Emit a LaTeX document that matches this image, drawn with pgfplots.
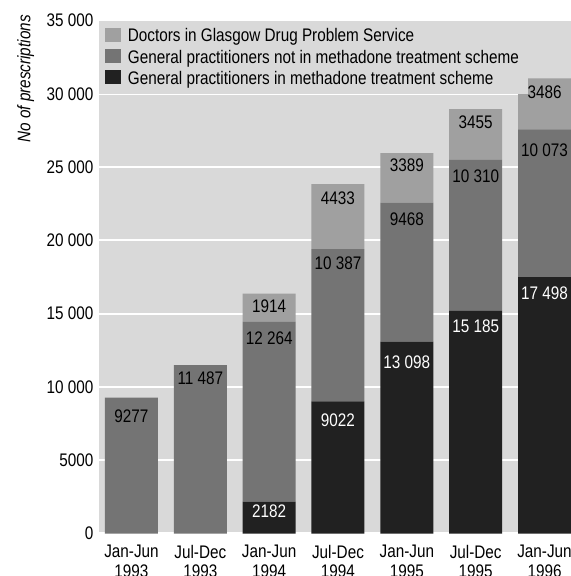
\documentclass[border=0pt]{standalone}
\usepackage{pgfplots}
\pgfplotsset{compat=1.18}
\usepackage{fontspec}
\setmainfont{Liberation Sans}[FakeStretch=0.84]
\definecolor{bgc}{HTML}{D9D9D9}
\definecolor{cl}{HTML}{A0A0A0}
\definecolor{cm}{HTML}{747474}
\definecolor{cd}{HTML}{212121}
\begin{document}
\begin{tikzpicture}[font=\fontsize{18.2bp}{19.5bp}\selectfont]
\begin{axis}[name=ax, scale only axis, width=472bp, height=513bp,
  xmin=-0.472, xmax=6.385, ymin=0, ymax=35000,
  scaled y ticks=false,
  ybar stacked, bar width=53bp,
  axis background/.style={fill=bgc},
  axis line style={draw=none},
  major tick length=0pt,
  ytick={0,5000,10000,15000,20000,25000,30000,35000},
  yticklabels={0,5000,10 000,15 000,20 000,25 000,30 000,35 000},
  xtick={0,1,2,3,4,5,6},
  xticklabels={{Jan-Jun\\1993},{Jul-Dec\\1993},{Jan-Jun\\1994},{Jul-Dec\\1994},{Jan-Jun\\1995},{Jul-Dec\\1995},{Jan-Jun\\1996}},
  xticklabel style={align=center, yshift=-8bp, font=\fontsize{18.2bp}{19.5bp}\selectfont},
  yticklabel style={xshift=-2bp},
  ymajorgrids, major grid style={white, line width=2bp},
  legend style={at={(0,1)}, anchor=north west, fill=bgc, draw=none,
    inner xsep=6bp, inner ysep=5bp, row sep=0.5bp, nodes={inner sep=3bp},
    font=\fontsize{18.2bp}{20bp}\selectfont},
  legend cell align=left,
  reverse legend,
  legend image code/.code={\fill[#1] (0bp,-6bp) rectangle (15.7bp,8bp); \path (19.7bp,0bp);},
  clip=false,
]
\addplot[fill=cd, draw=none] coordinates {(0,0) (1,0) (2,2182) (3,9022) (4,13098) (5,15185) (6,17498)};
\addlegendentry{General practitioners in methadone treatment scheme}
\addplot[fill=cm, draw=none] coordinates {(0,9277) (1,11487) (2,12264) (3,10387) (4,9468) (5,10310) (6,10073)};
\addlegendentry{General practitioners not in methadone treatment scheme}
\addplot[fill=cl, draw=none] coordinates {(0,0) (1,0) (2,1914) (3,4433) (4,3389) (5,3455) (6,3486)};
\addlegendentry{Doctors in Glasgow Drug Problem Service}
% label anchors
\coordinate (a1) at (axis cs:0,7969);
\coordinate (a2) at (axis cs:1,10589);
\coordinate (a3) at (axis cs:2,15474);
\coordinate (a4) at (axis cs:2,13318);
\coordinate (a5) at (axis cs:2,1487);
\coordinate (a6) at (axis cs:3,7744);
\coordinate (a7) at (axis cs:3,18435);
\coordinate (a8) at (axis cs:3,22869);
\coordinate (a9) at (axis cs:4,11653);
\coordinate (a10) at (axis cs:4,21457);
\coordinate (a11) at (axis cs:4,25141);
\coordinate (a12) at (axis cs:5,14109);
\coordinate (a13) at (axis cs:5,24391);
\coordinate (a14) at (axis cs:5,28027);
\coordinate (a15) at (axis cs:6,16388);
\coordinate (a16) at (axis cs:6,26165);
\coordinate (a17) at (axis cs:6,30122);
\end{axis}
\node at (a1) {9277};
\node at (a2) {11 487};
\node at (a3) {1914};
\node at (a4) {12 264};
\node[text=white] at (a5) {2182};
\node[text=white] at (a6) {9022};
\node at (a7) {10 387};
\node at (a8) {4433};
\node[text=white] at (a9) {13 098};
\node at (a10) {9468};
\node at (a11) {3389};
\node[text=white] at (a12) {15 185};
\node at (a13) {10 310};
\node at (a14) {3455};
\node[text=white] at (a15) {17 498};
\node at (a16) {10 073};
\node at (a17) {3486};
\node[rotate=90, anchor=north east, inner sep=0pt, font=\fontsize{18.2bp}{20bp}\selectfont\itshape] at ([xshift=-82bp, yshift=5.5bp]ax.north west) {No of prescriptions};
\pgfresetboundingbox
\path[use as bounding box] ([xshift=-99bp,yshift=-42.5bp]ax.south west) rectangle ([yshift=20.5bp]ax.north east);
\end{tikzpicture}
\end{document}
